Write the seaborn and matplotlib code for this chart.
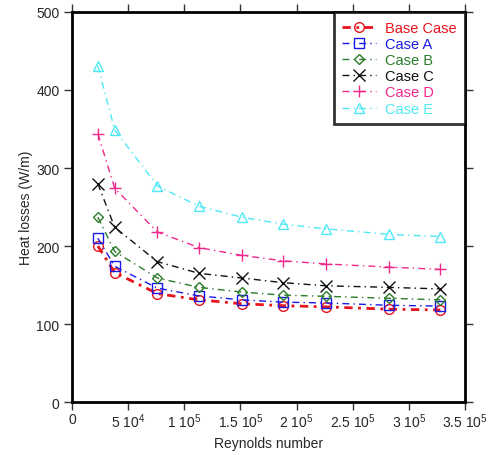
import matplotlib
matplotlib.use("Agg")
import matplotlib.pyplot as plt
import seaborn as sns

# Reynolds numbers (x) and heat losses in W/m for each case
reynolds = [23000, 38000, 76000, 113000, 151000, 188000, 226000, 282000, 328000]
base_case = [200, 166, 139, 131, 126, 123.5, 122, 119, 118]
case_a = [210, 174, 146, 136, 131, 128, 127, 124, 123]
case_b = [237, 193, 159, 147, 141, 137, 135.5, 133, 131]
case_c = [280, 224, 180, 165, 159, 153, 149, 147, 145]
case_d = [344, 274, 218, 198, 188, 181, 177, 173, 170]
case_e = [431, 349, 277, 251, 237, 228, 222, 215, 212]

labels = ["Base Case", "Case A", "Case B", "Case C", "Case D", "Case E"]
colors = ["#e8141c", "#1a1ae6", "#2a7d2a", "#111111", "#f0288c", "#4fe8f5"]
markers = ["o", "s", "D", "x", "+", "^"]
msizes = [7, 7, 5.5, 8, 9, 7]
widths = [2.0, 1, 1, 1, 1, 1]
dash = [(0, (3, 2, 1, 2)), (0, (5, 3, 1, 3)), (0, (5, 3, 1, 3)),
        (0, (5, 3, 1, 3)), (0, (5, 3, 1, 3)), (0, (5, 3, 1, 3))]
series = [base_case, case_a, case_b, case_c, case_d, case_e]

sns.set_style("white")
plt.rcParams["font.family"] = ["Liberation Sans", "DejaVu Sans"]
plt.rcParams["mathtext.default"] = "regular"

fig = plt.figure(figsize=(4.97, 4.56), dpi=100)
ax = fig.add_axes([0.1449, 0.1162, 0.7907, 0.8553])

for vals, lab, col, mk, ms, lw, ls in zip(series, labels, colors, markers, msizes, widths, dash):
    sns.lineplot(x=reynolds, y=vals, ax=ax, color=col, marker=mk, markersize=ms,
                 linestyle=ls, linewidth=lw, label=lab,
                 markerfacecolor="none", markeredgecolor=col, markeredgewidth=1)

ax.set_xlim(0, 350000)
ax.set_ylim(0, 500)
xt = [0, 50000, 100000, 150000, 200000, 250000, 300000, 350000]
xl = ["0", "5 10$^{4}$", "1 10$^{5}$", "1.5 10$^{5}$", "2 10$^{5}$",
      "2.5 10$^{5}$", "3 10$^{5}$", "3.5 10$^{5}$"]
ax.set_xticks(xt)
ax.set_xticklabels(xl)
ax.set_yticks([0, 100, 200, 300, 400, 500])
ax.tick_params(axis="both", which="major", direction="out", length=6, width=1,
               color="#333333", labelsize=10, pad=3,
               bottom=True, left=True, top=True, right=True,
               labeltop=False, labelright=False)
ax.tick_params(axis="x", pad=1)
for s in ax.spines.values():
    s.set_linewidth(2)
    s.set_color("black")
    s.set_visible(True)

ax.set_xlabel("Reynolds number", fontsize=10, labelpad=4)
ax.set_ylabel("Heat losses (W/m)", fontsize=10, labelpad=2)

leg = ax.legend(loc="upper right", fontsize=10.5, handlelength=2.3, handletextpad=0.6,
                borderpad=0.6, labelspacing=0.15, frameon=True, fancybox=False,
                borderaxespad=0)
leg.get_frame().set_edgecolor("black")
leg.get_frame().set_linewidth(2)
for txt, col in zip(leg.get_texts(), colors):
    txt.set_color(col)

fig.savefig("out.png", dpi=100)
